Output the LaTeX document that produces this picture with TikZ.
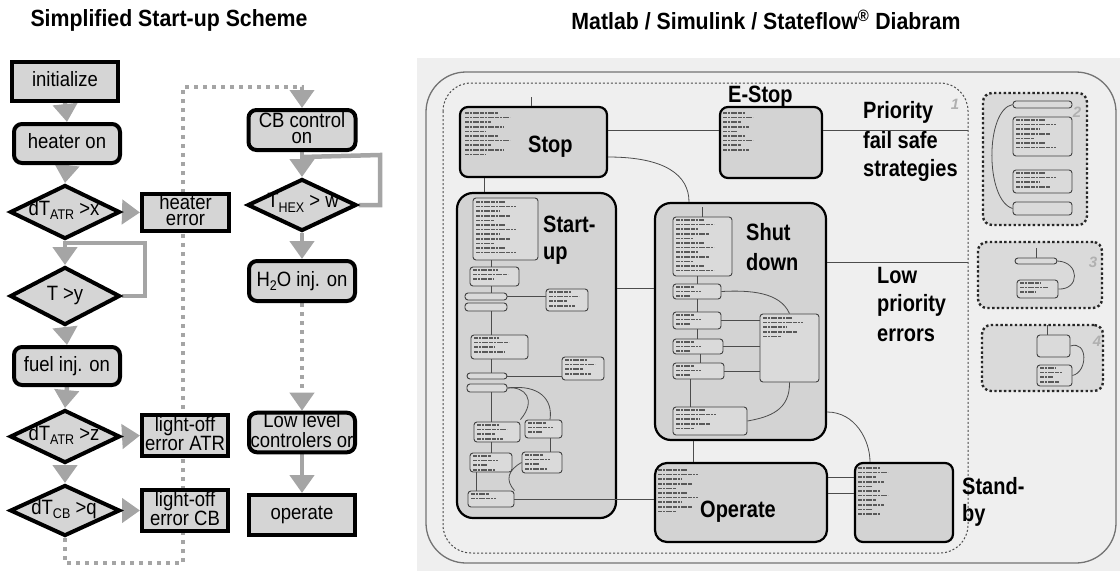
\documentclass[tikz,border=0pt]{standalone}
\usepackage{fontspec}
\setmainfont{Liberation Sans}
\usepackage{graphicx}
\usetikzlibrary{arrows.meta,shapes.geometric,backgrounds}
\definecolor{boxfill}{HTML}{D5D5D5}
\definecolor{arrgray}{HTML}{A5A5A5}
\definecolor{panel}{HTML}{EFEFEF}
\definecolor{sffill}{HTML}{D3D3D3}
\definecolor{sfinner}{HTML}{DADADA}
\definecolor{numgray}{HTML}{B0B0B0}
\newcommand\flowfont{\fontsize{18.5}{14.2}\selectfont}
\newcommand\ft[1]{\scalebox{1}[1.12]{\begin{tabular}{@{}c@{}}#1\end{tabular}}}
\newcommand\mysub[1]{\raisebox{-4pt}{\fontsize{12.5}{12}\selectfont #1}}
\newcommand\biglab[1]{\scalebox{1}[1.18]{\bfseries\fontsize{20}{20}\selectfont #1}}
\newcommand\ttl[1]{\scalebox{1}[1.1]{\bfseries\fontsize{21.3}{22}\selectfont #1}}
\newcommand\txtrows[4]{%
  \foreach \k in {1,...,#4}{%
    \pgfmathsetmacro\ww{#3*(0.45+0.55*mod(\k*7,5)/4)}%
    \draw[txtl] (#1,{#2+(\k-1)*4.6}) -- ++(\ww,0);}}
\newcommand\ibox[5]{\node[sfin,minimum width={(#4-#2)*1pt},minimum height={(#5-#3)*1pt}] (#1) at ({(#2+#4)/2},{(#3+#5)/2}) {};}
\begin{document}
\begin{tikzpicture}[x=1pt,y=-1pt,
  fbox/.style={draw=black,line width=4pt,fill=boxfill,inner sep=0pt,align=center,font=\flowfont},
  frbox/.style={fbox,rounded corners=8pt},
  fdia/.style={draw=black,line width=4pt,fill=boxfill,diamond,inner sep=0pt},
  ftxt/.style={font=\flowfont,inner sep=0pt,align=center},
  garrow/.style={draw=arrgray,line width=4.5pt,-{Triangle[width=24pt,length=18pt]}},
  gline/.style={draw=arrgray,line width=4.5pt},
  gdots/.style={draw=arrgray,line width=4pt,dash pattern=on 4pt off 5pt},
  title/.style={inner sep=0pt},
  sfbox/.style={draw=black,line width=2.2pt,fill=sffill,rounded corners=8pt,inner sep=0pt},
  sfbig/.style={sfbox,rounded corners=16pt},
  sfin/.style={draw=black!75,line width=0.9pt,fill=sfinner,rounded corners=3pt,inner sep=0pt},
  sfgroup/.style={draw=black!85,line width=2.4pt,dash pattern=on 2.4pt off 2.4pt,fill=sfinner,rounded corners=9pt,inner sep=0pt},
  sfline/.style={draw=black!70,line width=0.8pt},
  sflab/.style={inner sep=0pt,anchor=base west},
  numlab/.style={font=\bfseries\itshape\fontsize{15}{15}\selectfont,text=numgray,inner sep=0pt},
  txtl/.style={draw=black!65,line width=1.5pt,dash pattern=on 4pt off 1pt on 2pt off 1pt on 6pt off 1pt}
]
\useasboundingbox (0,0) rectangle (1120,571);

% ---------------- titles
\node[title] (t1) at (169,20) {\ttl{Simplified Start-up Scheme}};
\node[title] (t2) at (766,20) {\ttl{Matlab / Simulink / Stateflow\textsuperscript{®} Diabram}};

% ---------------- left flowchart
\node[fbox,minimum width=106pt,minimum height=39pt] (init) at (65,81.5) {\ft{initialize}};
\node[frbox,minimum width=106pt,minimum height=39pt] (heat) at (67,143.5) {\ft{heater on}};
\node[fdia,minimum width=110pt,minimum height=54pt] (d1) at (65,212) {};
\node[ftxt] (d1t) at (64,210) {\ft{dT\mysub{ATR} >x}};
\node[fbox,minimum width=87pt,minimum height=37pt] (herr) at (185.5,212.5) {\ft{heater\\error}};
\node[fdia,minimum width=110pt,minimum height=58pt] (d2) at (65,296) {};
\node[ftxt] (d2t) at (65,296) {\ft{T >y}};
\node[frbox,minimum width=106pt,minimum height=38pt] (fuel) at (67,366) {\ft{fuel inj. on}};
\node[fdia,minimum width=110pt,minimum height=53pt] (d3) at (65,436.5) {};
\node[ftxt] (d3t) at (64,435) {\ft{dT\mysub{ATR} >z}};
\node[fbox,minimum width=86pt,minimum height=41pt] (laerr) at (185,435.5) {\ft{light-off\\error ATR}};
\node[fdia,minimum width=110pt,minimum height=51pt] (d4) at (65,510.5) {};
\node[ftxt] (d4t) at (64,509) {\ft{dT\mysub{CB} >q}};
\node[fbox,minimum width=86pt,minimum height=41pt] (lcerr) at (185,510.5) {\ft{light-off\\error CB}};
\node[frbox,minimum width=107pt,minimum height=40pt] (cb) at (302,130) {\ft{CB control\\on}};
\node[fdia,minimum width=109pt,minimum height=52pt] (dhex) at (302,205) {};
\node[ftxt] (dhext) at (303,203) {\ft{T\mysub{HEX} > w}};
\node[frbox,minimum width=106pt,minimum height=40pt] (h2o) at (302,281) {\ft{H\mysub{2}O inj. on}};
\node[frbox,minimum width=106pt,minimum height=37pt] (low) at (302,432.5) {\ft{Low level\\controlers or}};
\node[fbox,minimum width=106pt,minimum height=40pt] (oper) at (302,515) {\ft{operate}};

\coordinate (j1) at (65,243);
\coordinate (j2) at (302,157);
\begin{pgfonlayer}{background}
\draw[garrow] (init.south) -- (heat.north);
\draw[garrow] (heat.south) -- (d1.north);
\draw[garrow] (d1.east) -- (herr.west);
\draw[garrow] (d1.south) -- (d2.north);
\draw[gline] (d2.east) -| (145,243) -- (j1);
\draw[garrow] (d2.south) -- (fuel.north);
\draw[garrow] (fuel.south) -- (d3.north);
\draw[garrow] (d3.east) -- (laerr.west);
\draw[garrow] (d3.south) -- (d4.north);
\draw[garrow] (d4.east) -- (lcerr.west);
\draw[gdots,-{Triangle[width=24pt,length=18pt]}] (d4.south) |- (183,563) |- (302,87) -- (cb.north);
\draw[garrow] (cb.south) -- (dhex.north);
\draw[gline] (dhex.east) -| (380,155) -- (j2);
\draw[garrow] (dhex.south) -- (h2o.north);
\draw[gdots,-{Triangle[width=24pt,length=18pt]}] (h2o.south) -- (low.north);
\draw[garrow] (low.south) -- (oper.north);
\end{pgfonlayer}

% ---------------- right Stateflow diagram
\fill[panel] (417,58) rectangle (1120,571);
\draw[black!55,line width=1.3pt,rounded corners=40pt] (426,72) rectangle (1116,563);
\draw[black!70,line width=1pt,dash pattern=on 2pt off 2pt,rounded corners=28pt] (443,83) rectangle (968,553);
\node[numlab] (n1) at (955,104) {1};

\node[sfbox,minimum width=147pt,minimum height=70pt] (stop) at (533.5,142) {};
\node[sfbox,minimum width=102pt,minimum height=71pt] (estop) at (771,142.5) {};
\node[sfbig,minimum width=159pt,minimum height=325pt] (start) at (536.5,355.5) {};
\node[sfbig,minimum width=171pt,minimum height=237pt] (shut) at (740.5,321.5) {};
\node[sfbox,rounded corners=12pt,minimum width=172pt,minimum height=79pt] (operate) at (741,502.5) {};
\node[sfbox,minimum width=98pt,minimum height=79pt] (standby) at (904,502.5) {};

% big labels
\node[sflab] (lstop) at (528,152) {\biglab{Stop}};
\node[sflab] (lestop) at (728,102) {\biglab{E-Stop}};
\node[sflab] (lst1) at (543,232) {\biglab{Start-}};
\node[sflab] (lst2) at (543,259) {\biglab{up}};
\node[sflab] (lsh1) at (746,240) {\biglab{Shut}};
\node[sflab] (lsh2) at (746,270) {\biglab{down}};
\node[sflab] (lop) at (700,517) {\biglab{Operate}};
\node[sflab] (lsb1) at (962,494) {\biglab{Stand-}};
\node[sflab] (lsb2) at (962,521) {\biglab{by}};
\node[sflab] (lp1) at (863,118) {\biglab{Priority}};
\node[sflab] (lp2) at (863,148) {\biglab{fail safe}};
\node[sflab] (lp3) at (863,176) {\biglab{strategies}};
\node[sflab] (ll1) at (877,283) {\biglab{Low}};
\node[sflab] (ll2) at (877,311) {\biglab{priority}};
\node[sflab] (ll3) at (877,341) {\biglab{errors}};

% coordinates for connectors
\coordinate (y130) at (0,130);
\coordinate (y157) at (0,157);
\coordinate (y262) at (0,262);
\coordinate (y288) at (0,288);
\coordinate (y412) at (0,412);
\coordinate (y477) at (0,477);
\coordinate (y493) at (0,493);
\coordinate (x484) at (484,0);
\coordinate (x531) at (531,0);
\coordinate (x689) at (689,0);
\coordinate (x693) at (693,0);
\coordinate (x870) at (870,0);
\coordinate (b1) at (968,130);
\coordinate (b2) at (968,262);
\coordinate (dt0) at (531,97);

\draw[sfline] (estop.west |- y130) -- (stop.east |- y130);
\draw[sfline] (estop.east |- y130) -- (b1);
\draw[sfline] (dt0) -- (stop.north -| x531);
\draw[sfline] (stop.south -| x484) -- (start.north -| x484);
\draw[sfline] (stop.east |- y157) .. controls (665,157) and (689,175) .. (shut.north -| x689);
\draw[sfline] (start.east |- y288) -- (shut.west |- y288);
\draw[sfline] (shut.east |- y262) -- (b2);
\draw[sfline] (shut.south -| x693) -- (operate.north -| x693);
\draw[sfline] (operate.east |- y477) -- (standby.west |- y477);
\draw[sfline] (operate.east |- y493) -- (standby.west |- y493);
\draw[sfline] (shut.east |- y412) .. controls (855,412) and (870,440) .. (standby.north -| x870);

% start-up interior
\ibox{sA}{473}{198}{538}{260}
\ibox{sB}{470}{267}{519}{286}
\ibox{sC1}{465}{293}{507}{300}
\ibox{sC2}{465}{303}{507}{311}
\ibox{sD}{546}{289}{588}{311}
\ibox{sE}{471}{335}{528}{359}
\ibox{sF}{562}{357}{604}{380}
\ibox{sG1}{467}{373}{507}{379}
\ibox{sG2}{467}{384}{507}{392}
\ibox{sH1}{474}{422}{520}{442}
\ibox{sH2}{525}{420}{562}{438}
\ibox{sI1}{470}{453}{512}{472}
\ibox{sI2}{522}{452}{562}{473}
\ibox{sJ}{468}{491}{514}{507}
\coordinate (x491) at (491,0);
\coordinate (x476) at (476,0);
\coordinate (x550) at (550,0);
\draw[sfline] (sA.south -| x491) -- (sB.north -| x491);
\draw[sfline] (sB.south -| x491) -- (sC1.north -| x491);
\draw[sfline] (sC2.south -| x491) -- (sE.north -| x491);
\draw[sfline] (sE.south -| x491) -- (sG1.north -| x491);
\draw[sfline] (sG2.south -| x491) -- (sH1.north -| x491);
\draw[sfline] (sH1.south -| x491) -- (sI1.north -| x491);
\draw[sfline] (sI1.south -| x476) -- (sJ.north -| x476);
\draw[sfline] (sH2.south -| x550) -- (sI2.north -| x550);
\draw[sfline] (sC1.east) -- (sD.west |- sC1.east);
\draw[sfline] (sG1.east) -- (sF.west |- sG1.east);
\draw[sfline] (sG2.east) .. controls (525,386) and (537,400) .. (sH2.north -| sH1.east);
\draw[sfline] (sG2.east) .. controls (540,384) and (553,400) .. (sH2.north -| x550);
\draw[sfline] (sI2.west) .. controls (508,470) and (505,480) .. (sJ.north east);
\draw[sfline] (sJ.east) -- (operate.west |- sJ.east);

% shut-down interior
\ibox{ua}{673}{217}{732}{276}
\ibox{ub}{673}{284}{721}{299}
\ibox{uc}{673}{312}{721}{329}
\ibox{ud}{673}{339}{723}{354}
\ibox{ue}{673}{363}{724}{379}
\ibox{uf}{760}{314}{819}{382}
\ibox{ug}{673}{407}{747}{435}
\coordinate (x697) at (697,0);
\coordinate (x700) at (700,0);
\coordinate (x690) at (690,0);
\coordinate (x702) at (702,0);
\coordinate (dt1) at (702,207);
\draw[sfline] (dt1) -- (ua.north -| x702);
\draw[sfline] (ua.south -| x697) -- (ub.north -| x697);
\draw[sfline] (ub.south -| x697) -- (uc.north -| x697);
\draw[sfline] (uc.south -| x697) -- (ud.north -| x697);
\draw[sfline] (ud.south -| x700) -- (ue.north -| x700);
\draw[sfline] (ue.south -| x690) -- (ug.north -| x690);
\draw[sfline] (uc.east) -- (uf.west |- uc.east);
\draw[sfline] (ud.east) -- (uf.west |- ud.east);
\draw[sfline] (ue.east) -- (uf.west |- ue.east);
\draw[sfline] (uf.north) .. controls (780,292) and (750,290) .. (ub.east);
\draw[sfline] (uf.south) .. controls (790,410) and (770,417) .. (ug.east);

% right-hand groups
\node[sfgroup,minimum width=104pt,minimum height=132pt] (g2) at (1035,159) {};
\node[sfgroup,minimum width=124pt,minimum height=66pt] (g3) at (1040,275) {};
\node[sfgroup,minimum width=121pt,minimum height=66pt] (g4) at (1042.5,358) {};
\node[numlab] (n2) at (1077,112) {2};
\node[numlab] (n3) at (1093,262) {3};
\node[numlab] (n4) at (1097,341) {4};
\ibox{g2a}{1013}{101}{1072}{108}
\ibox{g2b}{1013}{117}{1072}{156}
\ibox{g2c}{1013}{170}{1072}{193}
\ibox{g2d}{1013}{202}{1072}{215}
\draw[sfline] (g2a.west) .. controls (985,110) and (985,200) .. (g2d.west);
\ibox{g3a}{1015}{258}{1057}{264}
\ibox{g3b}{1017}{280}{1058}{298}
\draw[sfline] (g3a.east) .. controls (1080,262) and (1080,290) .. (g3b.east);
\coordinate (dt3) at (1036,248);
\draw[sfline] (dt3) -- (g3a.north -| dt3);
\ibox{g4a}{1037}{335}{1070}{357}
\ibox{g4b}{1037}{365}{1072}{386}
\draw[sfline] (g4a.east) .. controls (1088,340) and (1088,372) .. (g4b.east);
\coordinate (dt4) at (1047,325);
\draw[sfline] (dt4) -- (g4a.north -| dt4);

% tiny unreadable listings, as texture
\txtrows{465}{113}{45}{10}
\txtrows{723}{113}{30}{9}
\txtrows{476}{202}{40}{12}
\txtrows{473}{270}{35}{3}
\txtrows{549}{292}{30}{4}
\txtrows{474}{338}{35}{4}
\txtrows{565}{360}{30}{4}
\txtrows{477}{425}{30}{4}
\txtrows{528}{423}{25}{3}
\txtrows{473}{456}{25}{4}
\txtrows{525}{455}{25}{4}
\txtrows{471}{494}{25}{2}
\txtrows{676}{220}{38}{12}
\txtrows{676}{287}{25}{3}
\txtrows{676}{315}{25}{3}
\txtrows{676}{342}{25}{3}
\txtrows{676}{366}{25}{3}
\txtrows{763}{318}{40}{5}
\txtrows{676}{410}{40}{5}
\txtrows{658}{470}{40}{10}
\txtrows{858}{468}{30}{11}
\txtrows{1016}{120}{40}{7}
\txtrows{1016}{173}{40}{4}
\txtrows{1020}{283}{28}{3}
\txtrows{1040}{368}{22}{4}
\end{tikzpicture}
\end{document}
